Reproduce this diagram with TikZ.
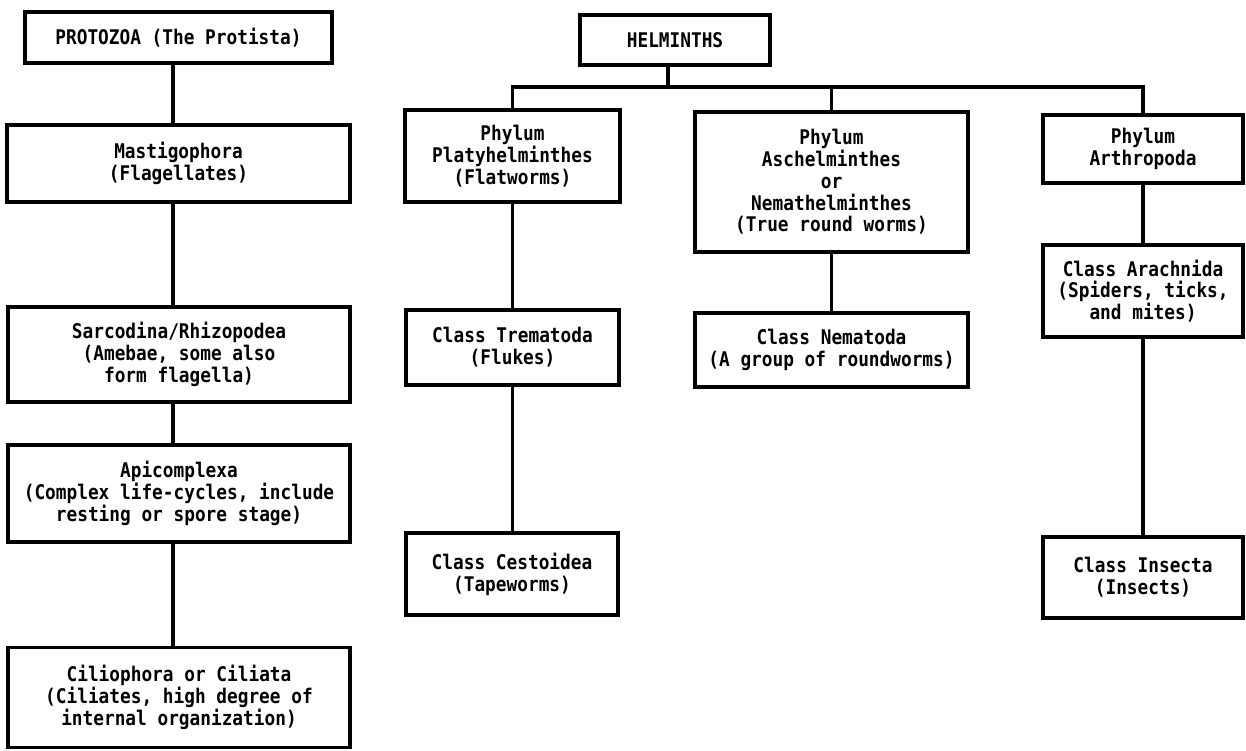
\documentclass[tikz,border=0pt]{standalone}
\usepackage{fontspec}
\newfontfamily\diafont[FakeStretch=0.88]{DejaVu Sans Mono}
\begin{document}
\begin{tikzpicture}[x=1pt,y=-1pt,
  box/.style={draw, line width=3.2pt, inner sep=0pt, align=center,
    font=\diafont\bfseries\fontsize{20.2}{21.8}\selectfont},
  link/.style={line width=3.2pt}]
\useasboundingbox[fill=white] (0,0) rectangle (1246,751);
% Protozoa column
\node[box, minimum width=307pt, minimum height=51pt] (protozoa) at (178.5,37.5) {PROTOZOA (The Protista)};
\node[box, minimum width=343pt, minimum height=77pt] (mast) at (178.5,163.5) {Mastigophora\\(Flagellates)};
\node[box, minimum width=342pt, minimum height=95pt] (sarc) at (179,354.5) {Sarcodina/Rhizopodea\\(Amebae, some also\\form flagella)};
\node[box, minimum width=342pt, minimum height=97pt] (apic) at (179,493.5) {Apicomplexa\\(Complex life-cycles, include\\resting or spore stage)};
\node[box, minimum width=342pt, minimum height=100pt] (cili) at (179,697.5) {Ciliophora or Ciliata\\(Ciliates, high degree of\\internal organization)};
% Helminths
\node[box, minimum width=190pt, minimum height=50pt] (helm) at (675,40) {HELMINTHS};
\node[box, minimum width=215pt, minimum height=92pt] (platy) at (512.5,156) {Phylum\\Platyhelminthes\\(Flatworms)};
\node[box, minimum width=273pt, minimum height=140pt] (asch) at (831.5,182) {Phylum\\Aschelminthes\\or\\Nemathelminthes\\(True round worms)};
\node[box, minimum width=200pt, minimum height=68pt] (arthro) at (1143,149) {Phylum\\Arthropoda};
\node[box, minimum width=213pt, minimum height=75pt] (trem) at (512.5,347.5) {Class Trematoda\\(Flukes)};
\node[box, minimum width=212pt, minimum height=82pt] (cest) at (512,574) {Class Cestoidea\\(Tapeworms)};
\node[box, minimum width=273pt, minimum height=74pt] (nema) at (831.5,350) {Class Nematoda\\(A group of roundworms)};
\node[box, minimum width=200pt, minimum height=92pt] (arach) at (1143,291) {Class Arachnida\\(Spiders, ticks,\\and mites)};
\node[box, minimum width=200pt, minimum height=81pt] (insect) at (1143,577.5) {Class Insecta\\(Insects)};
% connectors
\draw[link] ([xshift=-5.5pt]protozoa.south) -- ([xshift=-5.5pt]mast.north);
\draw[link] ([xshift=-5.5pt]mast.south) -- ([xshift=-6pt]sarc.north);
\draw[link] ([xshift=-6pt]sarc.south) -- ([xshift=-6pt]apic.north);
\draw[link] ([xshift=-6pt]apic.south) -- ([xshift=-6pt]cili.north);
\coordinate (bus) at (0,87);
\draw[link] ([xshift=-7pt]helm.south) -- ([xshift=-7pt]helm.south |- bus);
\draw[link] (platy.north) -- (platy.north |- bus) -- (arthro.north |- bus) -- (arthro.north);
\draw[link] (asch.north) -- (asch.north |- bus);
\draw[link] (platy.south) -- (trem.north);
\draw[link] (trem.south) -- ([xshift=0.5pt]cest.north);
\draw[link] (asch.south) -- (nema.north);
\draw[link] (arthro.south) -- (arach.north);
\draw[link] (arach.south) -- (insect.north);
\end{tikzpicture}
\end{document}
